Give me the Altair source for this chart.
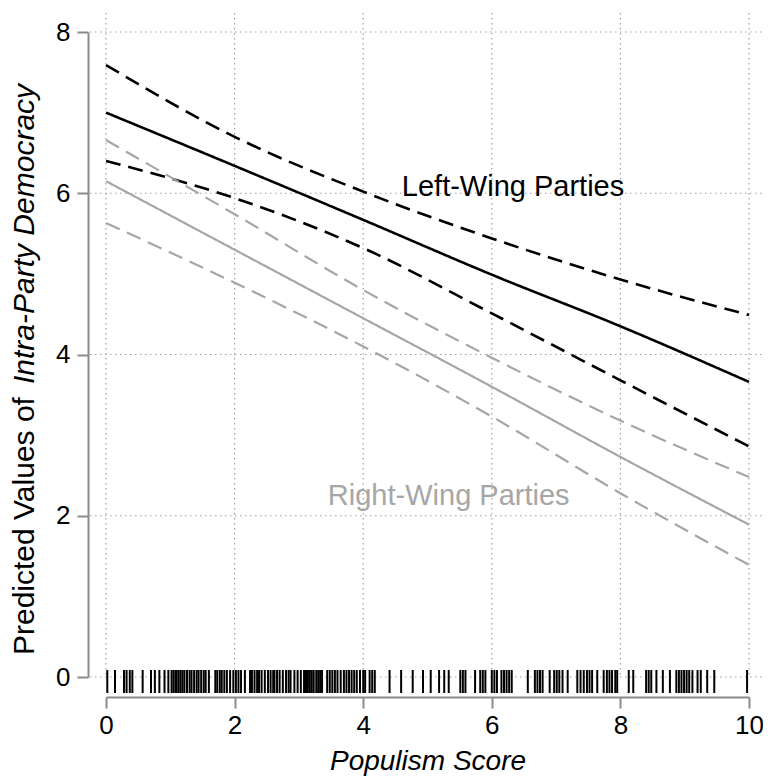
import altair as alt
import pandas as pd

# ---- data ----
x_pts = [0, 2, 4, 6, 8, 10]
left_fit = [7.00, 6.34, 5.67, 4.99, 4.35, 3.66]
left_hi = [7.59, 6.70, 6.02, 5.44, 4.93, 4.49]
left_lo = [6.40, 5.94, 5.32, 4.51, 3.68, 2.86]
right_fit = [6.15, 5.30, 4.45, 3.60, 2.73, 1.89]
right_hi = [6.66, 5.74, 4.80, 3.96, 3.18, 2.48]
right_lo = [5.63, 4.89, 4.10, 3.23, 2.28, 1.39]

rug_values = [
    0.02, 0.14, 0.28, 0.32, 0.37, 0.41, 0.57, 0.70, 0.76, 0.83, 0.91, 0.97,
    1.02, 1.05, 1.08, 1.10, 1.13, 1.16, 1.19, 1.22, 1.26, 1.30, 1.33, 1.37,
    1.41, 1.44, 1.48, 1.52, 1.55, 1.60, 1.70, 1.73, 1.77, 1.80, 1.84, 1.88,
    1.93, 1.98, 2.02, 2.06, 2.10, 2.16, 2.24, 2.27, 2.31, 2.35, 2.38, 2.42,
    2.47, 2.52, 2.56, 2.60, 2.62, 2.66, 2.70, 2.75, 2.80, 2.84, 2.87, 2.93,
    2.98, 3.03, 3.08, 3.11, 3.14, 3.17, 3.20, 3.23, 3.27, 3.30, 3.33, 3.36,
    3.44, 3.48, 3.52, 3.56, 3.60, 3.65, 3.70, 3.74, 3.78, 3.82, 3.86, 3.90,
    3.95, 4.00, 4.03, 4.10, 4.14, 4.18, 4.41, 4.59, 4.77, 4.93, 5.05, 5.18,
    5.26, 5.33, 5.51, 5.55, 5.59, 5.74, 5.82, 5.86, 5.90, 6.00, 6.04, 6.08,
    6.15, 6.19, 6.23, 6.27, 6.31, 6.56, 6.67, 6.71, 6.75, 6.79, 6.90, 6.97,
    7.01, 7.05, 7.10, 7.18, 7.33, 7.38, 7.43, 7.48, 7.52, 7.56, 7.64, 7.74,
    7.79, 7.83, 7.87, 7.92, 7.95, 8.13, 8.20, 8.40, 8.44, 8.48, 8.56, 8.66,
    8.77, 8.87, 8.91, 8.95, 8.99, 9.03, 9.07, 9.12, 9.20, 9.25, 9.35, 9.46,
    9.97,
]

x_ticks = [0, 2, 4, 6, 8, 10]
y_ticks = [0, 2, 4, 6, 8]

labels = ["Left-Wing Parties", "Right-Wing Parties"]
label_x = [6.33, 5.33]
label_y = [5.97, 2.13]

FONT = "Liberation Sans"
GRAY = "#a6a6a6"
AXIS_GRAY = "#8a8a8a"

# ---- build tables ----
rows = []
for party, style, name, vals in [
    ("Left", "fit", "lf", left_fit), ("Left", "ci", "lh", left_hi), ("Left", "ci", "ll", left_lo),
    ("Right", "fit", "rf", right_fit), ("Right", "ci", "rh", right_hi), ("Right", "ci", "rl", right_lo),
]:
    for xv, yv in zip(x_pts, vals):
        rows.append({"x": xv, "y": yv, "party": party, "style": style, "series": name})
lines_df = pd.DataFrame(rows)
rug_df = pd.DataFrame({"x": rug_values})
gx_df = pd.DataFrame({"x": x_ticks})
gy_df = pd.DataFrame({"y": y_ticks})
lab_df = pd.DataFrame({"x": label_x, "y": label_y, "t": labels, "party": ["Left", "Right"]})

W, H = 643, 645
xs = alt.Scale(domain=[0, 10], nice=False, zero=False)
ys = alt.Scale(domain=[0, 8], nice=False, zero=False)

party_color = alt.Scale(domain=["Left", "Right"], range=["#000000", GRAY])

grid_style = dict(color="#a0a0a0", strokeWidth=1.2, strokeDash=[1.5, 3.5])

vgrid = alt.Chart(gx_df).mark_rule(**grid_style).encode(
    x=alt.X("x:Q", scale=xs,
            axis=alt.Axis(values=x_ticks, format="d", grid=False, offset=20, domainColor=AXIS_GRAY,
                          domainWidth=2, tickColor=AXIS_GRAY, tickWidth=2, tickSize=11,
                          labelFont=FONT, labelFontSize=26, labelColor="black", labelFlush=False,
                          labelPadding=4, title="Populism Score", titleFont=FONT,
                          titleFontSize=28, titleFontStyle="italic", titleFontWeight="normal",
                          titleColor="black", titleBaseline="alphabetic", titleY=72)),
    y=alt.value(-19), y2=alt.value(H),
)

hgrid = alt.Chart(gy_df).mark_rule(**grid_style).encode(
    y=alt.Y("y:Q", scale=ys,
            axis=alt.Axis(values=y_ticks, format="d", grid=False, offset=18, domainColor=AXIS_GRAY,
                          domainWidth=2, tickColor=AXIS_GRAY, tickWidth=2, tickSize=11,
                          labelFont=FONT, labelFontSize=26, labelColor="black", labelFlush=False,
                          labelPadding=7, title=None)),
    x=alt.value(-16), x2=alt.value(W + 14),
)

lines = alt.Chart(lines_df).mark_line(interpolate="monotone").encode(
    x=alt.X("x:Q", scale=xs),
    y=alt.Y("y:Q", scale=ys),
    color=alt.Color("party:N", scale=party_color, legend=None),
    strokeDash=alt.StrokeDash("style:N", scale=alt.Scale(domain=["fit", "ci"], range=[[1, 0], [15, 8]]), legend=None),
    strokeWidth=alt.StrokeWidth("party:N", scale=alt.Scale(domain=["Left", "Right"], range=[2.6, 2.2]), legend=None),
    detail="series:N",
)

rug = alt.Chart(rug_df).mark_rule(color="black", strokeWidth=2).encode(
    x=alt.X("x:Q", scale=xs),
    y=alt.value(638), y2=alt.value(661),
)

texts = alt.Chart(lab_df).mark_text(font=FONT, fontSize=29, align="center", baseline="alphabetic").encode(
    x=alt.X("x:Q", scale=xs),
    y=alt.Y("y:Q", scale=ys),
    text="t:N",
    color=alt.Color("party:N", scale=party_color, legend=None),
)

ytitle_a = alt.Chart(pd.DataFrame({"t": ["Predicted Values of"]})).mark_text(
    font=FONT, fontSize=30, angle=270, align="left", baseline="alphabetic", color="black"
).encode(text="t:N", x=alt.value(-72), y=alt.value(623))

ytitle_b = alt.Chart(pd.DataFrame({"t": ["Intra-Party Democracy"]})).mark_text(
    font=FONT, fontSize=30, fontStyle="italic", angle=270, align="left", baseline="alphabetic", color="black"
).encode(text="t:N", x=alt.value(-72), y=alt.value(352))

chart = alt.layer(vgrid, hgrid, lines, rug, texts, ytitle_a, ytitle_b).properties(
    width=W, height=H,
    autosize=alt.AutoSizeParams(type="none"),
    padding={"left": 98, "top": 24, "right": 14, "bottom": 102},
    background="white",
).configure_view(stroke=None)

chart.save("out.html", embed_options={"renderer": "svg", "actions": False})
